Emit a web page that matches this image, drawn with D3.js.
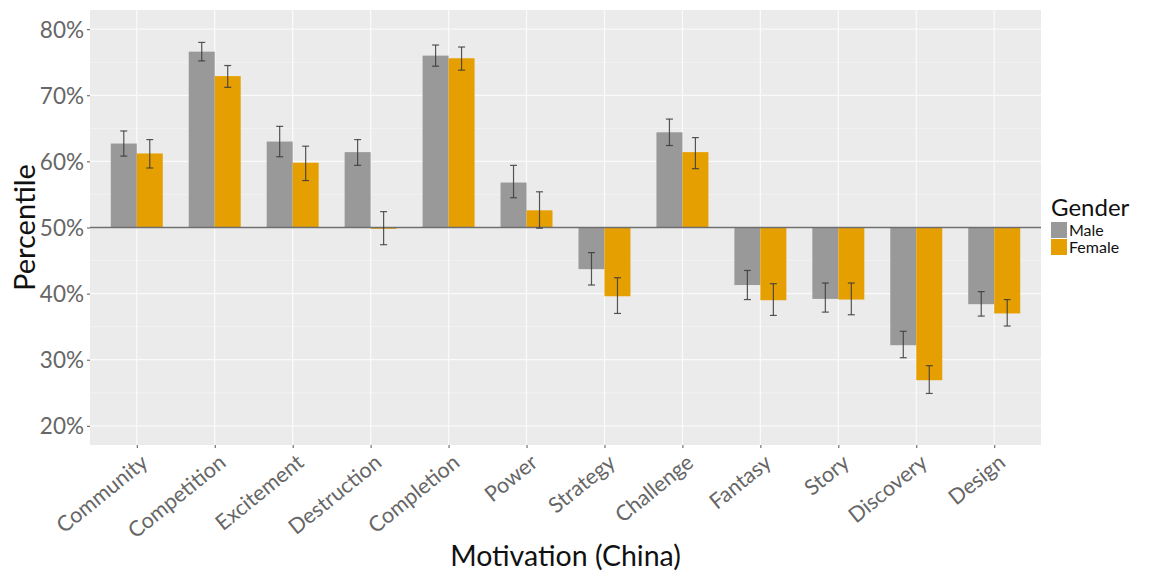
<!DOCTYPE html>
<html>
<head>
<meta charset="utf-8">
<script src="https://cdn.jsdelivr.net/npm/d3@7"></script>
<style>
  html, body { margin: 0; padding: 0; background: #fff; }
  svg { display: block; font-family: Lato, "Open Sans", sans-serif; }
</style>
</head>
<body>
<svg id="chart" width="1150" height="571"></svg>
<script>
// Motivation percentiles by gender (China), with error bar bounds
const categories = ["Community", "Competition", "Excitement", "Destruction", "Completion", "Power",
                    "Strategy", "Challenge", "Fantasy", "Story", "Discovery", "Design"];
const genders = ["Male", "Female"];
const maleValues   = [62.7, 76.6, 63.0, 61.4, 76.0, 56.8, 43.7, 64.4, 41.3, 39.2, 32.2, 38.4];
const maleLower    = [60.8, 75.2, 60.7, 59.4, 74.4, 54.5, 41.3, 62.4, 39.1, 37.2, 30.3, 36.6];
const maleUpper    = [64.6, 78.0, 65.3, 63.3, 77.6, 59.4, 46.2, 66.4, 43.5, 41.6, 34.3, 40.3];
const femaleValues = [61.2, 72.9, 59.8, 49.8, 75.6, 52.6, 39.6, 61.4, 39.0, 39.1, 26.9, 37.0];
const femaleLower  = [59.0, 71.2, 57.1, 47.4, 73.8, 49.9, 37.0, 58.9, 36.7, 36.8, 24.9, 35.1];
const femaleUpper  = [63.3, 74.5, 62.3, 52.4, 77.3, 55.4, 42.4, 63.6, 41.5, 41.6, 29.1, 39.1];
const yTicks = [20, 30, 40, 50, 60, 70, 80];
const yMinorTicks = [25, 35, 45, 55, 65, 75];
const baseline = 50;
const colors = { Male: "#999999", Female: "#E69F00" };

const rows = [];
categories.forEach((c, i) => {
  rows.push({ cat: c, gender: "Male", value: maleValues[i], lo: maleLower[i], hi: maleUpper[i] });
  rows.push({ cat: c, gender: "Female", value: femaleValues[i], lo: femaleLower[i], hi: femaleUpper[i] });
});

const svg = d3.select("#chart");
const panel = { left: 90, top: 10, right: 1041, bottom: 445 };

// Discrete x scale with 0.6-unit expansion on either side
const nCat = categories.length;
const step = (panel.right - panel.left) / (nCat - 1 + 1.2);
const x = d3.scalePoint().domain(categories)
  .range([panel.left + 0.6 * step, panel.right - 0.6 * step]);
const dodge = d3.scaleBand().domain(genders).range([-step / 3, step / 3]).padding(0);

const y = d3.scaleLinear().domain([17.1, 82.9]).range([panel.bottom, panel.top]);

// panel background
svg.append("rect")
  .attr("x", panel.left).attr("y", panel.top)
  .attr("width", panel.right - panel.left).attr("height", panel.bottom - panel.top)
  .attr("fill", "#EBEBEB");

// grid lines
const grid = svg.append("g");
grid.selectAll(".minor").data(yMinorTicks).join("line")
  .attr("x1", panel.left).attr("x2", panel.right)
  .attr("y1", d => y(d)).attr("y2", d => y(d))
  .attr("stroke", "#F4F4F4").attr("stroke-width", 0.8);
grid.selectAll(".major").data(yTicks).join("line")
  .attr("x1", panel.left).attr("x2", panel.right)
  .attr("y1", d => y(d)).attr("y2", d => y(d))
  .attr("stroke", "#FAFAFA").attr("stroke-width", 1.3);
grid.selectAll(".vmajor").data(categories).join("line")
  .attr("x1", d => x(d)).attr("x2", d => x(d))
  .attr("y1", panel.top).attr("y2", panel.bottom)
  .attr("stroke", "#FAFAFA").attr("stroke-width", 1.3);

// bars from the 50% baseline
svg.append("g").selectAll("rect").data(rows).join("rect")
  .attr("x", d => x(d.cat) + dodge(d.gender))
  .attr("width", dodge.bandwidth())
  .attr("y", d => y(Math.max(d.value, baseline)))
  .attr("height", d => Math.abs(y(d.value) - y(baseline)))
  .attr("fill", d => colors[d.gender]);

// baseline
svg.append("line")
  .attr("x1", panel.left).attr("x2", panel.right)
  .attr("y1", y(baseline)).attr("y2", y(baseline))
  .attr("stroke", "#6E6E6E").attr("stroke-width", 1.6);

// error bars
const eb = svg.append("g").attr("stroke", "#3A3A3A").attr("stroke-width", 1.2).attr("stroke-opacity", 0.85);
const capW = 3.5;
rows.forEach(d => {
  const cx = x(d.cat) + dodge(d.gender) + dodge.bandwidth() / 2;
  eb.append("line").attr("x1", cx).attr("x2", cx).attr("y1", y(d.lo)).attr("y2", y(d.hi));
  eb.append("line").attr("x1", cx - capW).attr("x2", cx + capW).attr("y1", y(d.lo)).attr("y2", y(d.lo));
  eb.append("line").attr("x1", cx - capW).attr("x2", cx + capW).attr("y1", y(d.hi)).attr("y2", y(d.hi));
});

// y axis
const yAxis = svg.append("g").attr("transform", `translate(${panel.left},0)`)
  .call(d3.axisLeft(y).tickValues(yTicks).tickFormat(d => d + "%").tickSize(3).tickPadding(3));
yAxis.select(".domain").remove();
yAxis.selectAll(".tick line").attr("stroke", "#555").attr("stroke-width", 1);
yAxis.selectAll(".tick text").attr("fill", "#666").attr("font-size", 22.5)
  .attr("font-family", "Lato, sans-serif").attr("dy", "0.36em");

// x axis
const xAxis = svg.append("g").attr("transform", `translate(0,${panel.bottom})`)
  .call(d3.axisBottom(x).tickSize(3).tickPadding(4));
xAxis.select(".domain").remove();
xAxis.selectAll(".tick line").attr("stroke", "#555").attr("stroke-width", 1);
xAxis.selectAll(".tick text")
  .attr("fill", "#666").attr("font-size", 21.5).attr("font-family", "Lato, sans-serif")
  .attr("text-anchor", "end").attr("dy", 0).attr("y", 0)
  .attr("transform", "translate(12,20) rotate(-39)");

// axis titles
svg.append("text")
  .attr("x", (panel.left + panel.right) / 2).attr("y", 566)
  .attr("text-anchor", "middle").attr("font-size", 28.5).attr("fill", "#111")
  .text("Motivation (China)");
svg.append("text")
  .attr("transform", `translate(35,${(panel.top + panel.bottom) / 2}) rotate(-90)`)
  .attr("text-anchor", "middle").attr("font-size", 29).attr("fill", "#111")
  .text("Percentile");

// legend
const lg = svg.append("g").attr("transform", "translate(1051,0)");
lg.append("text").attr("x", 0).attr("y", 216).attr("font-size", 24).attr("fill", "#111").text("Gender");
genders.forEach((g, i) => {
  lg.append("rect").attr("x", 0).attr("y", 222 + i * 17).attr("width", 16).attr("height", 16)
    .attr("fill", colors[g]);
  lg.append("text").attr("x", 18).attr("y", 236 + i * 17).attr("font-size", 16).attr("fill", "#111").text(g);
});
</script>
</body>
</html>
